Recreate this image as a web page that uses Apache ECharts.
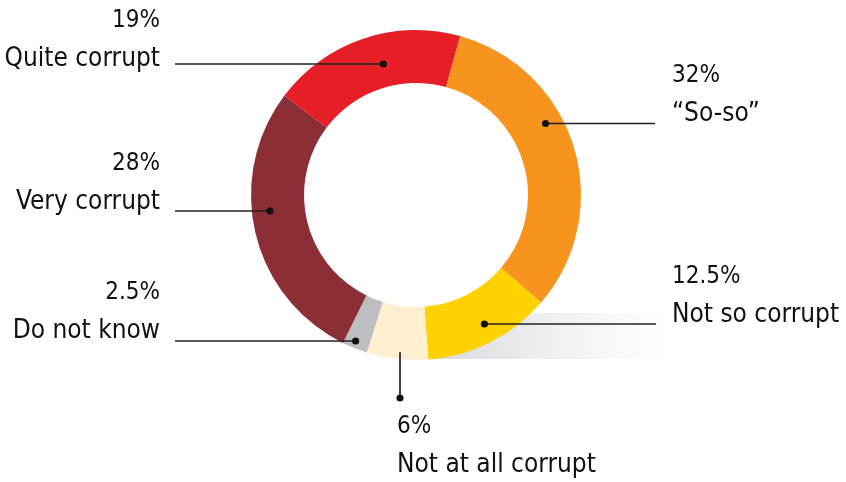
<!DOCTYPE html>
<html>
<head>
<meta charset="utf-8">
<title>Corruption perception</title>
<script src="https://cdn.jsdelivr.net/npm/echarts@6/dist/echarts.min.js"></script>
<style>
  html, body { margin: 0; padding: 0; background: #fff; }
  #main { width: 846px; height: 482px; }
</style>
</head>
<body>
<div id="main"></div>
<script>
// answers, clockwise from the top of the ring
var categories = ['\u201cSo-so\u201d', 'Not so corrupt', 'Not at all corrupt', 'Do not know', 'Very corrupt', 'Quite corrupt'];
var shares = [32, 12.5, 6, 2.5, 28, 19];
var shareLabels = ['32%', '12.5%', '6%', '2.5%', '28%', '19%'];
var colors = ['#f7941d', '#ffd200', '#ffefd0', '#bcbec0', '#8c2e36', '#e61e25'];

var cx = 416, cy = 195;
var FONT = '"DejaVu Sans Condensed", "Liberation Sans Narrow", sans-serif';

// where each label sits and how its leader runs
// side: l/r/b, tx/ty = text anchor, ly = leader y, r = dot radius, end = leader end
var labelPos = [
  { side: 'r', tx: 672, ty: 56,  ly: 123.5, r: 148, end: 655 },
  { side: 'r', tx: 672, ty: 257, ly: 324,   r: 146, end: 656 },
  { side: 'b', tx: 397, ty: 407, lx: 400,   r: 158, end: 398 },
  { side: 'l', tx: 160, ty: 273, ly: 341,   r: 158, end: 175 },
  { side: 'l', tx: 160, ty: 144, ly: 211,   r: 147, end: 175 },
  { side: 'l', tx: 160, ty: 1,   ly: 64,    r: 135, end: 175 }
];

function leader(i) {
  var p = labelPos[i];
  var a, b;
  if (p.side === 'b') {
    var dy = Math.sqrt(p.r * p.r - (p.lx - cx) * (p.lx - cx));
    a = [p.lx, cy + dy];
    b = [p.lx, p.end];
    return { pts: [a, b], dot: b };
  }
  var dx = Math.sqrt(p.r * p.r - (p.ly - cy) * (p.ly - cy));
  a = [p.side === 'r' ? cx + dx : cx - dx, p.ly];
  b = [p.end, p.ly];
  return { pts: [a, b], dot: a };
}

var data = [];
var marks = [];
for (var i = 0; i < categories.length; i++) {
  data.push({ name: categories[i], value: shares[i], itemStyle: { color: colors[i] } });
  var l = leader(i);
  marks.push({
    type: 'polyline',
    shape: { points: l.pts },
    style: { stroke: '#222', lineWidth: 1.7, fill: null },
    z: 100
  });
  marks.push({
    type: 'circle',
    shape: { cx: l.dot[0], cy: l.dot[1], r: 3.6 },
    style: { fill: '#111' },
    z: 101
  });
}

var myChart = echarts.init(document.getElementById('main'), null, { renderer: 'canvas' });

var option = {
  backgroundColor: '#fff',
  animation: false,
  graphic: [
    {
      type: 'rect',
      z: -10,
      shape: { x: 430, y: 313, width: 232, height: 46 },
      style: {
        fill: new echarts.graphic.LinearGradient(0, 0, 1, 0, [
          { offset: 0, color: '#d8d9db' },
          { offset: 0.5, color: '#eeefef' },
          { offset: 1, color: '#ffffff' }
        ])
      }
    }
  ].concat(marks),
  series: [
    {
      type: 'pie',
      silent: true,
      center: [cx, cy],
      radius: [112, 165],
      startAngle: 74.5,
      clockwise: true,
      avoidLabelOverlap: false,
      data: data,
      label: {
        show: true,
        position: 'outside',
        color: '#111',
        fontFamily: FONT,
        formatter: function (p) {
          return '{p|' + shareLabels[p.dataIndex] + '}\n{n|' + p.name + '}';
        },
        rich: {
          p: { fontFamily: FONT, fontSize: 24, lineHeight: 39, color: '#111' },
          n: { fontFamily: FONT, fontSize: 26, lineHeight: 39, color: '#111' }
        }
      },
      labelLine: { show: false },
      labelLayout: function (params) {
        var p = labelPos[params.dataIndex];
        return {
          x: p.tx,
          y: p.ty,
          align: p.side === 'l' ? 'right' : 'left',
          verticalAlign: 'top'
        };
      }
    }
  ]
};

myChart.setOption(option);
</script>
</body>
</html>
